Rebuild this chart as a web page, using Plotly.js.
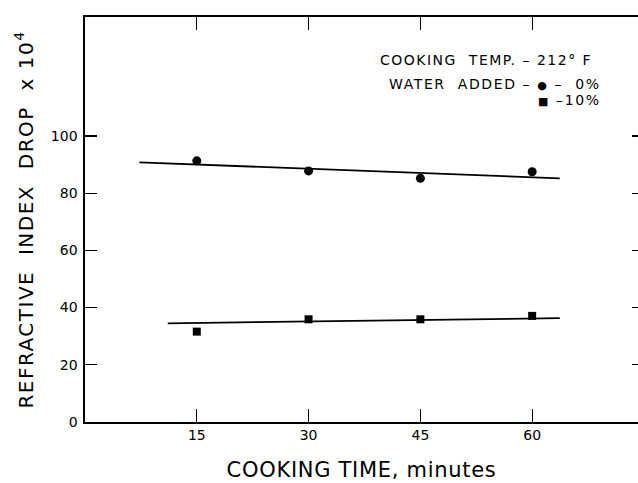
<!DOCTYPE html>
<html>
<head>
<meta charset="utf-8">
<script src="https://cdn.plot.ly/plotly-3.0.1.min.js"></script>
<style>html,body{margin:0;padding:0;background:#fff;}#chart{width:638px;height:483px;}</style>
</head>
<body>
<div id="chart"></div>
<script>
// Data
const cookingTime = [15, 30, 45, 60];
const drop0 = [91.3, 87.8, 85.2, 87.5];      // water added 0%
const drop10 = [31.6, 35.9, 35.9, 37.1];     // water added 10%
const fit0X = [7.3, 63.7];
const fit0Y = [90.8, 85.2];
const fit10X = [11.1, 63.7];
const fit10Y = [34.5, 36.3];
const xTicks = [15, 30, 45, 60];
const yTicks = [0, 20, 40, 60, 80, 100];
const yTicksRight = [20, 40, 60, 80, 100];

const FONT = "DejaVu Sans, Liberation Sans, sans-serif";
const L = 85, R = 638, T = 17, B = 422;
const W = R - L, H = B - T;
const px = v => (v - L) / W;
const py = v => (B - v) / H;
const ls = (t, s) => '<span style="letter-spacing:' + s + 'px">' + t + '</span>';

const traces = [
  {x: fit0X, y: fit0Y, mode: 'lines', line: {color: '#000', width: 1.8}, hoverinfo: 'skip'},
  {x: fit10X, y: fit10Y, mode: 'lines', line: {color: '#000', width: 1.8}, hoverinfo: 'skip'},
  {x: cookingTime, y: drop0, mode: 'markers', marker: {symbol: 'circle', size: 9, color: '#000'}},
  {x: cookingTime, y: drop10, mode: 'markers', marker: {symbol: 'square', size: 8, color: '#000'}},
  {x: [null], y: [null], xaxis: 'x2', yaxis: 'y2', mode: 'markers', hoverinfo: 'skip'}
];

const layout = {
  width: 638, height: 483,
  margin: {l: L, r: 0, t: T, b: 483 - B, pad: 0},
  paper_bgcolor: '#fff', plot_bgcolor: '#fff',
  showlegend: false,
  font: {family: FONT, color: '#000'},
  xaxis: {
    range: [0, 74.2], tickvals: xTicks, ticktext: xTicks.map(String),
    ticks: 'inside', ticklen: 13, tickwidth: 1.3, tickcolor: '#000',
    showline: true, linecolor: '#000', linewidth: 1.6,
    showgrid: false, zeroline: false,
    tickfont: {size: 14, family: FONT},
    title: {text: ls('COOKING TIME, minutes', 0.7), font: {size: 21, family: FONT}, standoff: 20},
    automargin: false
  },
  xaxis2: {
    overlaying: 'x', side: 'top', range: [0, 74.2], tickvals: xTicks,
    ticks: 'inside', ticklen: 13, tickwidth: 1.3, tickcolor: '#000',
    showticklabels: false, showline: true, linecolor: '#000', linewidth: 1.6,
    showgrid: false, zeroline: false
  },
  yaxis: {
    range: [0, 141.6], tickvals: yTicks, ticktext: yTicks.map(String),
    ticks: 'inside', ticklen: 12, tickwidth: 1.3, tickcolor: '#000',
    showline: true, linecolor: '#000', linewidth: 1.6,
    showgrid: false, zeroline: false,
    tickfont: {size: 14, family: FONT}, ticklabelstandoff: 3,
    title: {text: ls('REFRACTIVE  INDEX  DROP  x 10<sup>4</sup>', 1.5), font: {size: 20, family: FONT}, standoff: 12},
    automargin: false
  },
  yaxis2: {
    overlaying: 'y', side: 'right', range: [0, 141.6], tickvals: yTicksRight,
    ticks: 'inside', ticklen: 6, tickwidth: 1.3, tickcolor: '#000',
    showticklabels: false, showline: false, showgrid: false, zeroline: false
  },
  annotations: [
    {text: ls('COOKING  TEMP. – 212° F', 1.5), xref: 'paper', yref: 'paper', x: px(594), y: py(60),
     xanchor: 'right', yanchor: 'middle', showarrow: false, font: {size: 14, family: FONT}},
    {text: ls('WATER  ADDED – <span style="font-size:11px">●</span> –  0%', 1.6), xref: 'paper', yref: 'paper', x: px(603), y: py(84),
     xanchor: 'right', yanchor: 'middle', showarrow: false, font: {size: 14, family: FONT}},
    {text: ls('<span style="font-size:11px">■</span> –10%', 1.6), xref: 'paper', yref: 'paper', x: px(603), y: py(100),
     xanchor: 'right', yanchor: 'middle', showarrow: false, font: {size: 14, family: FONT}}
  ]
};

Plotly.newPlot('chart', traces, layout, {staticPlot: true, displayModeBar: false});
</script>
</body>
</html>
